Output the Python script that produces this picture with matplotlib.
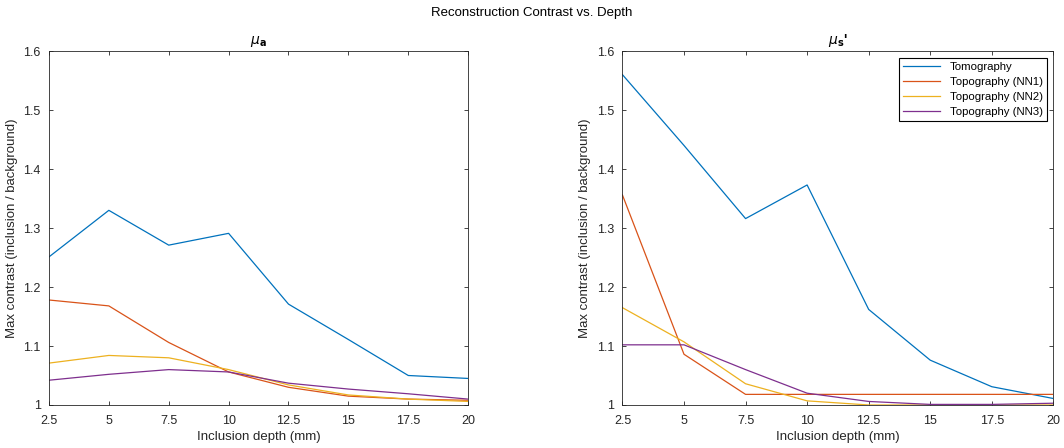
from matplotlib import pyplot as plt

plt.rcParams['font.family'] = ['Liberation Sans', 'DejaVu Sans']
plt.rcParams['mathtext.fontset'] = 'dejavusans'

# Inclusion depths (mm)
depth = [2.5, 5, 7.5, 10, 12.5, 15, 17.5, 20]

series_names = ['Tomography', 'Topography (NN1)', 'Topography (NN2)', 'Topography (NN3)']
colors = ['#0072BD', '#D95319', '#EDB120', '#7E2F8E']

# mu_a contrast
mua_tomo = [1.251, 1.330, 1.271, 1.291, 1.171, 1.111, 1.050, 1.045]
mua_nn1 = [1.178, 1.168, 1.106, 1.056, 1.030, 1.015, 1.010, 1.008]
mua_nn2 = [1.071, 1.084, 1.080, 1.060, 1.034, 1.017, 1.010, 1.006]
mua_nn3 = [1.042, 1.052, 1.060, 1.056, 1.037, 1.027, 1.019, 1.010]

# mu_s' contrast
mus_tomo = [1.560, 1.440, 1.316, 1.373, 1.162, 1.076, 1.031, 1.011]
mus_nn1 = [1.356, 1.086, 1.018, 1.018, 1.018, 1.018, 1.018, 1.018]
mus_nn2 = [1.165, 1.107, 1.036, 1.007, 1.000, 1.000, 1.000, 1.000]
mus_nn3 = [1.102, 1.102, 1.060, 1.020, 1.006, 1.001, 1.001, 1.003]

xticks = [2.5, 5, 7.5, 10, 12.5, 15, 17.5, 20]
xtick_labels = ['2.5', '5', '7.5', '10', '12.5', '15', '17.5', '20']
yticks = [1, 1.1, 1.2, 1.3, 1.4, 1.5, 1.6]
ytick_labels = ['1', '1.1', '1.2', '1.3', '1.4', '1.5', '1.6']

fig = plt.figure(figsize=(10.64, 4.48), dpi=100)
ax1 = fig.add_axes([0.046, 0.096, 0.394, 0.790])
ax2 = fig.add_axes([0.585, 0.096, 0.405, 0.790])

panels = [
    (ax1, [mua_tomo, mua_nn1, mua_nn2, mua_nn3], r'$\mathit{\mu}_\mathbf{a}$'),
    (ax2, [mus_tomo, mus_nn1, mus_nn2, mus_nn3], r"$\mathit{\mu}_\mathbf{s}$'"),
]

for ax, data, title in panels:
    for values, name, c in zip(data, series_names, colors):
        ax.plot(depth, values, color=c, linewidth=0.9, label=name)
    ax.set_xlim(2.5, 20)
    ax.set_ylim(1, 1.6)
    ax.set_xticks(xticks)
    ax.set_xticklabels(xtick_labels)
    ax.set_yticks(yticks)
    ax.set_yticklabels(ytick_labels)
    ax.tick_params(direction='in', top=True, right=True, labelsize=9,
                   length=3, width=0.6, colors='#262626', labelcolor='#262626')
    ax.tick_params(axis='x', pad=7)
    ax.tick_params(axis='y', pad=6)
    for s in ax.spines.values():
        s.set_linewidth(0.6)
        s.set_color('#262626')
    ax.set_xlabel('Inclusion depth (mm)', fontsize=9.5, color='#262626', labelpad=3)
    ax.set_ylabel('Max contrast (inclusion / background)', fontsize=9.5,
                  color='#262626', labelpad=4)
    ax.set_title(title, fontsize=10, fontweight='bold', pad=5)

leg = ax2.legend(loc='upper right', fontsize=8.2, fancybox=False,
                 edgecolor='black', framealpha=1, handlelength=3.3,
                 borderpad=0.35, labelspacing=0.45, borderaxespad=0.6)
leg.get_frame().set_linewidth(0.8)

fig.suptitle('Reconstruction Contrast vs. Depth', fontsize=9.5, y=0.985)

fig.savefig('out.png', dpi=100)
